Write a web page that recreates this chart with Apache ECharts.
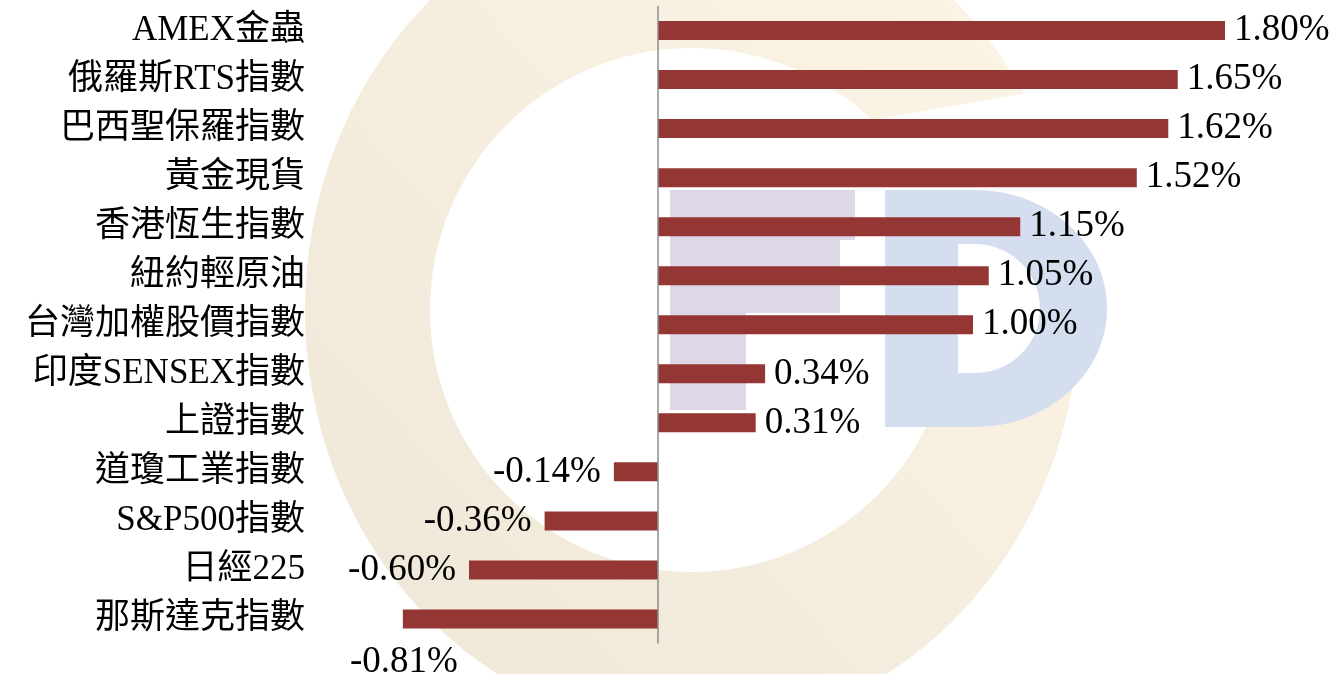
<!DOCTYPE html>
<html>
<head>
<meta charset="utf-8">
<script src="https://cdn.jsdelivr.net/npm/echarts@6/dist/echarts.min.js"></script>
<style>
html,body{margin:0;padding:0;background:#fff;}
#chart{width:1340px;height:674px;}
</style>
</head>
<body>
<div id="chart"></div>
<script>
// ---- data ----
var categories = ['AMEX金蟲','俄羅斯RTS指數','巴西聖保羅指數','黃金現貨','香港恆生指數','紐約輕原油','台灣加權股價指數','印度SENSEX指數','上證指數','道瓊工業指數','S&P500指數','日經225','那斯達克指數'];
var values = [1.80, 1.65, 1.62, 1.52, 1.15, 1.05, 1.00, 0.34, 0.31, -0.14, -0.36, -0.60, -0.81];

// ---- watermark helpers ----
function arcPts(cx, cy, rx, ry, a0, a1, n) {
  var pts = [];
  for (var i = 0; i <= n; i++) {
    var a = a0 + (a1 - a0) * i / n;
    pts.push([cx + rx * Math.cos(a), cy + ry * Math.sin(a)]);
  }
  return pts;
}
var dOuter = [[885,190],[975,190]].concat(arcPts(975,308.5,132,118.5,-Math.PI/2,Math.PI/2,60)).concat([[975,427],[885,427]]);
var dInner = [[958,244],[975,244]].concat(arcPts(975,308.5,65,64.5,-Math.PI/2,Math.PI/2,40)).concat([[975,373],[958,373]]);

var chart = echarts.init(document.getElementById('chart'));
var labelFont = '"Liberation Serif", "Noto Sans CJK TC", serif';

var barData = values.map(function (v, i) {
  var lbl = v >= 0 ? { position: 'right', distance: 9 } : { position: 'left', distance: 13 };
  if (categories[i] === '那斯達克指數') { lbl.offset = [68, 43]; }
  return { value: v, label: lbl };
});

chart.setOption({
  backgroundColor: '#ffffff',
  animation: false,
  graphic: [
    { type: 'circle', x: 692, y: 310, scaleY: 1.088, z: 0.1,
      shape: { cx: 0, cy: 0, r: 387 },
      style: { fill: new echarts.graphic.LinearGradient(0, 1, 1, 0, [
        { offset: 0, color: '#eee7d7' }, { offset: 1, color: '#fdf6e6' }]) } },
    { type: 'circle', z: 0.2, shape: { cx: 692, cy: 310, r: 262 }, style: { fill: '#ffffff' } },
    { type: 'polygon', z: 0.3, shape: { points: [[850,124],[1100,80],[1100,381],[850,355]] }, style: { fill: '#ffffff' } },
    { type: 'polygon', z: 0.4, shape: { points: [[670,190],[855,190],[855,240],[840,240],[840,313],[746,313],[746,410],[670,410]] }, style: { fill: '#ded7e7' } },
    { type: 'polygon', z: 0.4, shape: { points: dOuter }, style: { fill: '#d4deef' } },
    { type: 'polygon', z: 0.5, shape: { points: dInner }, style: { fill: '#ffffff' } }
  ],
  grid: { left: 343, right: 52, top: 6, bottom: 30.5, containLabel: false },
  xAxis: { type: 'value', min: -1, max: 2, show: false },
  yAxis: {
    type: 'category', data: categories, inverse: true,
    axisLine: { show: false }, axisTick: { show: false }, splitLine: { show: false },
    axisLabel: { interval: 0, margin: 38, fontSize: 35, fontFamily: labelFont, color: '#000000' }
  },
  series: [{
    type: 'bar', data: barData, barWidth: 19,
    itemStyle: { color: '#943634' },
    label: {
      show: true, fontSize: 37, fontFamily: labelFont, color: '#000000',
      formatter: function (p) { return p.value.toFixed(2) + '%'; }
    },
    markLine: {
      silent: true, symbol: 'none', label: { show: false },
      lineStyle: { color: '#8e8e8e', width: 1.5, type: 'solid' },
      data: [{ xAxis: 0 }]
    }
  }]
});
</script>
</body>
</html>
